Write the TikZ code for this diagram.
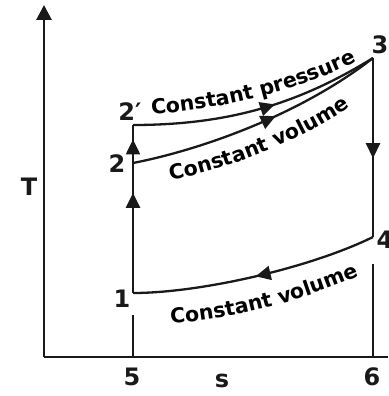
\documentclass[tikz,border=0pt]{standalone}
\usepackage{fontspec}
\setmainfont{DejaVu Sans}
\usetikzlibrary{arrows.meta,decorations.markings,decorations.text}
\begin{document}
\begin{tikzpicture}[x=1pt,y=-1pt,
  line/.style={line width=2.3pt, black!90},
  ax/.style={line width=2.8pt, black!90},
  lbl/.style={font=\fontsize{24}{28}\selectfont\bfseries, inner sep=0pt, text=black!90},
  mid/.style={postaction={decorate}, decoration={markings, mark=at position #1 with {\arrow{Triangle[length=15pt,width=14pt]}}}},
  curvetext/.style={decorate, decoration={text along path, text align=center, text={|\fontsize{20.5}{24}\selectfont\bfseries|#1}}}
]
\useasboundingbox (0,0) rectangle (388,396);
\coordinate (O) at (44,357);
\coordinate (Ytop) at (44,5);
\coordinate (Xend) at (388,357);
\coordinate (p1) at (133,293);
\coordinate (p2) at (133,163);
\coordinate (p2p) at (133,125);
\coordinate (p3) at (373,58);
\coordinate (p4) at (373,237);
\coordinate (t5) at (133,315);
\coordinate (b5) at (133,357);
\coordinate (t6) at (373,264);
\coordinate (b6) at (373,357);

\draw[ax,-{Triangle[length=15pt,width=15pt]}] (O) -- (Ytop);
\draw[ax] (O) -- (Xend);
\draw[line] (t5) -- (b5);
\draw[line] (t6) -- (b6);
\draw[line, mid=0.77] (p1) -- (p2);
\draw[line, mid=0.62] (p2) -- (p2p);
\draw[line, mid=0.56] (p3) -- (p4);
\draw[line, mid=0.57] (p2p) .. controls (230,125) and (300,103) .. (p3);
\draw[line, mid=0.57] (p2) .. controls (200,150) and (300,115) .. (p3);
\draw[line, mid=0.5] (p4) .. controls (310,268) and (200,293) .. (p1);

\path[curvetext={Constant pressure}] (148,115) .. controls (230,108) and (300,90) .. (360,60);
\path[curvetext={Constant volume}] (164,182) .. controls (230,169) and (300,142) .. (356,103);
\path[curvetext={Constant volume}] (166,324) .. controls (240,319) and (300,301) .. (364,274);

\node[lbl] (T) at (29,187) {T};
\node[lbl] (s) at (222,381) {s};
\node[lbl] (n5) at (132,377) {5};
\node[lbl] (n6) at (372,377) {6};
\node[lbl] (l1) at (122,299) {1};
\node[lbl] (l2) at (117,164) {2};
\node[lbl] (l2p) at (130,112) {2′};
\node[lbl] (l3) at (380,45) {3};
\node[lbl] (l4) at (385,240) {4};
\end{tikzpicture}
\end{document}
